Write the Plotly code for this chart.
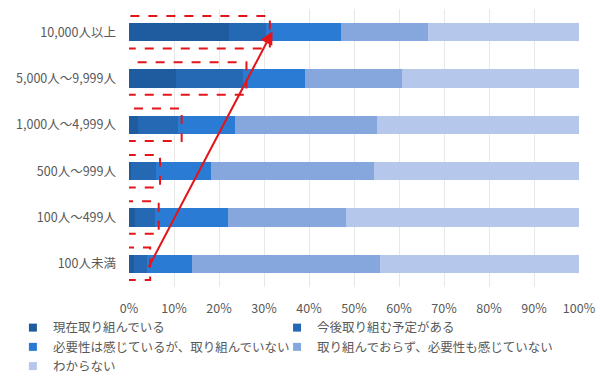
import plotly.graph_objects as go

categories = ["100人未満", "100人～499人", "500人～999人", "1,000人～4,999人", "5,000人～9,999人", "10,000人以上"]
series_names = ["現在取り組んでいる", "今後取り組む予定がある", "必要性は感じているが、取り組んでいない",
                "取り組んでおらず、必要性も感じていない", "わからない"]
s1 = [1.2, 1.3, 0.4, 2.0, 10.5, 22.2]
s2 = [2.7, 4.5, 5.7, 8.9, 14.8, 8.3]
s3 = [10.2, 16.2, 12.1, 12.6, 13.8, 16.5]
s4 = [41.6, 26.2, 36.3, 31.7, 21.5, 19.5]
s5 = [44.3, 51.8, 45.5, 44.8, 39.4, 33.5]
colors = ["#1F5C9F", "#2569B5", "#2A7BD4", "#86A7DE", "#B5C7EA"]
legend_column = ["legend", "legend2", "legend", "legend2", "legend"]
tick_vals = [0, 10, 20, 30, 40, 50, 60, 70, 80, 90, 100]
tick_text = [f"{v}%" for v in tick_vals]

series = [s1, s2, s3, s4, s5]
ypos = list(range(len(categories)))

font_family = "Noto Sans CJK JP"
text_color = "#595959"

fig = go.Figure()
for name, vals, col in zip(series_names, series, colors):
    fig.add_trace(go.Bar(
        x=vals, y=ypos, orientation="h", name=name,
        marker=dict(color=col, line=dict(width=0)),
        showlegend=False, hoverinfo="x+name"))
for k, (name, col, lg) in enumerate(zip(series_names, colors, legend_column)):
    fig.add_trace(go.Scatter(
        x=[None], y=[None], mode="markers", name=name, legend=lg,
        legendgroup=f"g{k}",
        marker=dict(symbol="square", size=8, color=col)))

# red dashed boxes around the first two segments
for i in ypos:
    right = s1[i] + s2[i] + 0.8
    fig.add_shape(type="rect", xref="x", yref="y",
                  x0=-0.5, x1=right, y0=i - 0.35, y1=i + 0.35,
                  line=dict(color="#E3151B", width=2, dash="dash"))

# red arrow from smallest to largest
fig.add_annotation(
    xref="x", yref="y", axref="x", ayref="y",
    x=s1[5] + s2[5] + 1.4, y=5.02,
    ax=s1[0] + s2[0] + 0.3, ay=-0.1,
    showarrow=True, arrowhead=2, arrowsize=1.3, arrowwidth=2,
    arrowcolor="#E3151B", text="")

legend_common = dict(orientation="v", yanchor="top", xanchor="left",
                     traceorder="normal", tracegroupgap=5,
                     font=dict(size=12.5, color=text_color),
                     bgcolor="rgba(0,0,0,0)")

fig.update_layout(
    width=600, height=386,
    margin=dict(l=129, r=21, t=9, b=99, autoexpand=False),
    barmode="stack", bargap=0.61,
    paper_bgcolor="white", plot_bgcolor="white",
    font=dict(family=font_family, size=12, color=text_color),
    xaxis=dict(range=[0, 100], tickvals=tick_vals, ticktext=tick_text,
               showgrid=True, gridcolor="#E8E8E8", gridwidth=1,
               zeroline=False, showline=False, ticks="", automargin=False,
               ticklabelstandoff=12,
               tickfont=dict(size=12.5, color=text_color)),
    yaxis=dict(range=[-0.5, 5.5], tickvals=ypos, ticktext=categories,
               showgrid=False, zeroline=False, showline=False, ticks="",
               ticklabelstandoff=12, automargin=False,
               tickfont=dict(size=12.5, color=text_color)),
    legend=dict(x=-0.258, y=-0.0935, **legend_common),
    legend2=dict(x=0.329, y=-0.0935, **legend_common),
)

fig.write_html("out.html", config={"displayModeBar": False})
with open("out.html", encoding="utf-8") as f:
    html = f.read()
html = html.replace("<head>", "<head><style>html,body{margin:0;padding:0;}</style>", 1)
with open("out.html", "w", encoding="utf-8") as f:
    f.write(html)
